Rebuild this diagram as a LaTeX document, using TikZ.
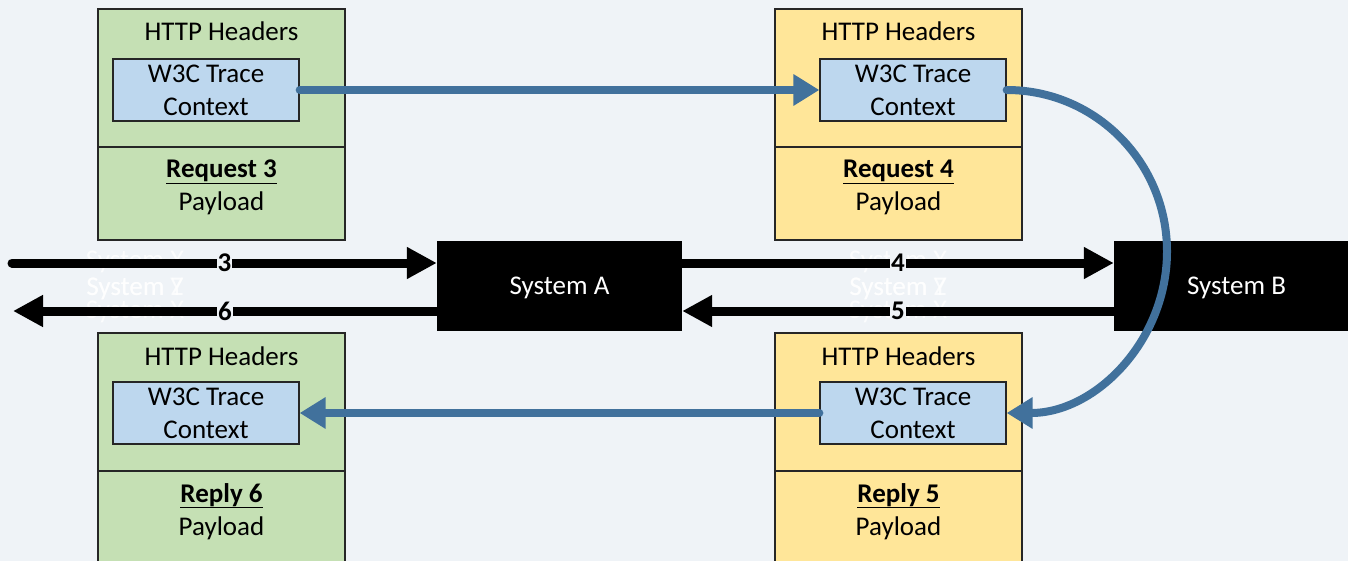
\documentclass[tikz,border=0pt]{standalone}
\usepackage{fontspec}
\setmainfont{Carlito}
\usetikzlibrary{arrows.meta}

\definecolor{bg}{HTML}{EFF3F7}
\definecolor{greenbox}{HTML}{C5E0B4}
\definecolor{yellowbox}{HTML}{FFE699}
\definecolor{ctxblue}{HTML}{BDD7EE}
\definecolor{flowblue}{HTML}{41719C}
\definecolor{edge}{HTML}{262626}

\begin{document}
\begin{tikzpicture}[x=1pt,y=-1pt,
  font=\fontsize{27}{33}\selectfont,
  part/.style={draw=edge, line width=1.3pt, minimum width=247pt, inner sep=0pt},
  ctx/.style={draw=edge, fill=ctxblue, line width=1.3pt, minimum width=186pt,
              minimum height=62pt, inner sep=0pt, align=center},
  sys/.style={fill=black, text=white, minimum width=245pt, minimum height=90pt,
              inner sep=0pt, text depth=0pt},
  txt/.style={anchor=base, inner sep=0pt},
  wire/.style={line width=9pt, -{Triangle[length=30pt,width=30pt]}},
  flow/.style={draw=flowblue, line width=8pt, line cap=round,
               -{Triangle[length=26pt,width=30pt]}},
  ghost/.style={anchor=base, inner sep=0pt, text=white, text opacity=0.8},
  numlabel/.style={fill=bg, inner sep=1pt, font=\fontsize{27}{27}\selectfont\bfseries}
]
\useasboundingbox (0,0) rectangle (1348,561);
\fill[bg] (0,0) rectangle (1348,561);

% ---- message boxes: header part, payload part, trace context ----
% Request 3 (top left)
\node[part, fill=greenbox, minimum height=138pt] (hdrR3) at (221.5,78) {};
\node[part, fill=greenbox, minimum height=93pt]  (payR3) at (221.5,193.5) {};
\node[txt] (hR3) at (221.5,41) {HTTP Headers};
\node[ctx] (ctxR3) at (206,90) {W3C Trace\\Context};
\node[txt] (tR3) at (221.5,178) {\textbf{\underline{Request 3}}};
\node[txt] (pR3) at (221.5,211) {Payload};

% Request 4 (top right)
\node[part, fill=yellowbox, minimum height=138pt] (hdrR4) at (898.5,78) {};
\node[part, fill=yellowbox, minimum height=93pt]  (payR4) at (898.5,193.5) {};
\node[txt] (hR4) at (898.5,41) {HTTP Headers};
\node[ctx] (ctxR4) at (913,90) {W3C Trace\\Context};
\node[txt] (tR4) at (898.5,178) {\textbf{\underline{Request 4}}};
\node[txt] (pR4) at (898.5,211) {Payload};

% Reply 6 (bottom left)
\node[part, fill=greenbox, minimum height=138pt] (hdrP6) at (221.5,402) {};
\node[part, fill=greenbox, minimum height=93pt]  (payP6) at (221.5,517.5) {};
\node[txt] (hP6) at (221.5,365) {HTTP Headers};
\node[ctx] (ctxP6) at (206,413) {W3C Trace\\Context};
\node[txt] (tP6) at (221.5,502) {\textbf{\underline{Reply 6}}};
\node[txt] (pP6) at (221.5,535) {Payload};

% Reply 5 (bottom right)
\node[part, fill=yellowbox, minimum height=138pt] (hdrP5) at (898.5,402) {};
\node[part, fill=yellowbox, minimum height=93pt]  (payP5) at (898.5,517.5) {};
\node[txt] (hP5) at (898.5,365) {HTTP Headers};
\node[ctx] (ctxP5) at (913,413) {W3C Trace\\Context};
\node[txt] (tP5) at (898.5,502) {\textbf{\underline{Reply 5}}};
\node[txt] (pP5) at (898.5,535) {Payload};

% ---- systems ----
\node[sys] (sysA) at (559.5,286) {System A};
\node[sys] (sysB) at (1236.5,286) {System B};

% ---- faint system names along the wires ----
\foreach \gx/\gn in {135/L, 898/R} {
  \node[ghost] (gx1\gn) at (\gx,269) {System X};
  \node[ghost] (gy\gn)  at (\gx,295) {System Y};
  \node[ghost] (gz\gn)  at (\gx,295) {System Z};
  \node[ghost] (gx2\gn) at (\gx,318) {System X};
}

% ---- request / reply wires ----
\coordinate (inL)  at (12,263);
\coordinate (outL) at (13,311);
\draw[wire, line cap=round] (inL) -- (sysA.west |- inL) node[numlabel, pos=0.5] (n3) {3};
\draw[wire] (sysA.west |- outL) -- (outL) node[numlabel, pos=0.5] (n6) {6};
\draw[wire] (sysA.east |- inL) -- (sysB.west |- inL) node[numlabel, pos=0.5] (n4) {4};
\draw[wire] (sysB.west |- outL) -- (sysA.east |- outL) node[numlabel, pos=0.5] (n5) {5};

% ---- trace context propagation ----
\coordinate (bend) at (1167,251.5);
\draw[flow] (ctxR3.east) -- (ctxR4.west);
\draw[flow] (ctxR4.east) .. controls +(89,0) and +(0,-89) .. (bend)
                         .. controls +(0,89) and +(89,0) .. (ctxP5.east);
\draw[flow] (ctxP5.west) -- (ctxP6.east);
\end{tikzpicture}
\end{document}
